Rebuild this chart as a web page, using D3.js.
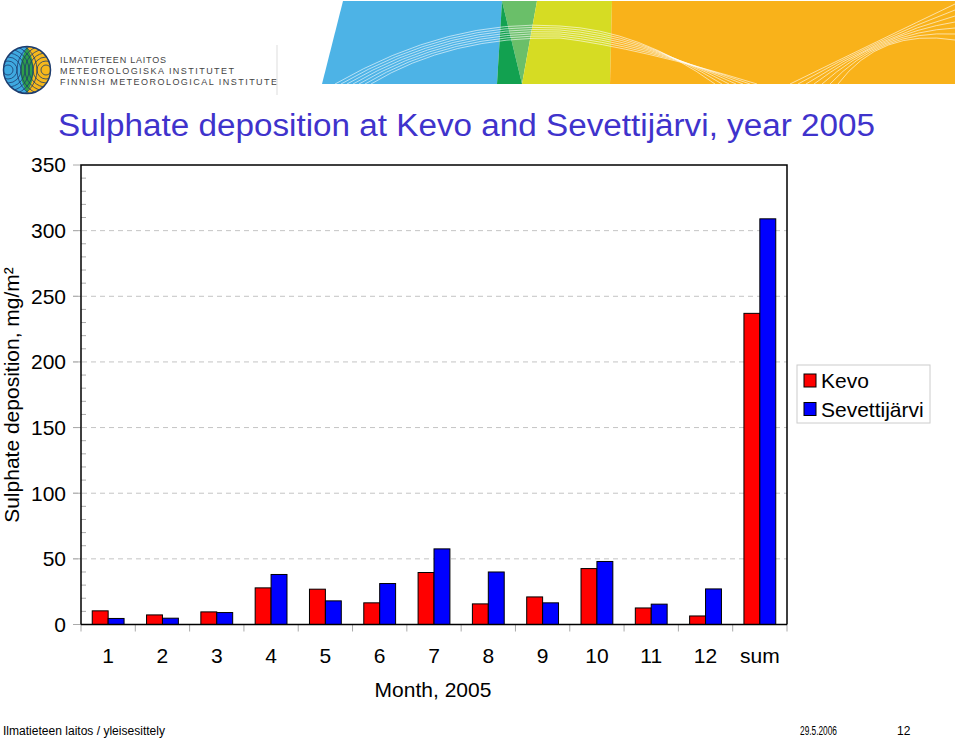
<!DOCTYPE html>
<html><head><meta charset="utf-8">
<script src="https://cdnjs.cloudflare.com/ajax/libs/d3/7.8.5/d3.min.js"></script>
<style>body{margin:0;background:#fff}svg{display:block}</style>
</head><body><svg id="c" width="959" height="738"></svg>
<script>
const categories = ["1","2","3","4","5","6","7","8","9","10","11","12","sum"];
const seriesNames = ["Kevo","Sevettijärvi"];
const kevo = [10.4,7.3,9.6,27.9,26.9,16.5,39.6,15.7,21,42.6,12.6,6.5,237];
const sevettijarvi = [4.6,4.8,9.1,38.1,18,31.2,57.6,40,16.5,48,15.5,27.1,309];
const yTicks = [0,50,100,150,200,250,300,350];
const colors = ["#ff0000","#0000ff"];

const svg = d3.select("#c");
const F = "Liberation Sans, Arial, sans-serif";

// ---- header banner ----
const ban = svg.append("g");
ban.append("polygon").attr("points","343,1 502,1 497,84 322,84").attr("fill","#4db3e6");
ban.append("polygon").attr("points","502,1 537,1 522,84").attr("fill","#6abf69");
ban.append("polygon").attr("points","502,1 522,84 497,84").attr("fill","#12a150");
ban.append("polygon").attr("points","537,1 612,1 610,84 522,84").attr("fill","#d6dc23");
ban.append("polygon").attr("points","612,1 955,1 955,84 610,84").attr("fill","#f9b21a");
const wl = ban.append("g").attr("fill","none").attr("stroke","#fff").attr("stroke-opacity",0.75).attr("stroke-width",0.8);
for (let i=0;i<7;i++){
  wl.append("path").attr("d",`M${335+i*6},84 Q${450},${18+i*3} ${560},${26+i*2} Q${640},${30+i*3} ${715+i*7},84`);
  wl.append("path").attr("d",`M${790+i*8},84 Q${880},${40-i*2} ${955},${4+i*6}`);
}

// ---- logo ----
const lg = svg.append("g");
const defs = svg.append("defs");
defs.append("clipPath").attr("id","lc").append("circle").attr("cx",27).attr("cy",70).attr("r",23.5);
const lgc = lg.append("g").attr("clip-path","url(#lc)");
lgc.append("rect").attr("x",0).attr("y",45).attr("width",27).attr("height",50).attr("fill","#3fa9e0");
lgc.append("rect").attr("x",27).attr("y",45).attr("width",30).attr("height",50).attr("fill","#f6b81c");
lgc.append("path").attr("d","M27,47 Q14,70 27,93 Q40,70 27,47Z").attr("fill","#2e9e4a");
for (let r=5;r<=30;r+=4){
  lgc.append("circle").attr("cx",8).attr("cy",70).attr("r",r).attr("fill","none").attr("stroke","#1d3c6e").attr("stroke-width",0.8);
  lgc.append("circle").attr("cx",46).attr("cy",70).attr("r",r).attr("fill","none").attr("stroke","#1d3c6e").attr("stroke-width",0.8);
}
lg.append("circle").attr("cx",27).attr("cy",70).attr("r",23.5).attr("fill","none").attr("stroke","#1d3c6e").attr("stroke-width",1.5);
const logoLines = ["ILMATIETEEN LAITOS","METEOROLOGISKA INSTITUTET","FINNISH METEOROLOGICAL INSTITUTE"];
const logoLen = [106,174,217];
logoLines.forEach((t,i)=>{
  lg.append("text").attr("x",60).attr("y",62.5+i*11).attr("font-family",F).attr("font-size",9)
    .attr("fill","#444").attr("textLength",logoLen[i]).attr("lengthAdjust","spacing").text(t);
});
lg.append("line").attr("x1",277).attr("x2",277).attr("y1",45).attr("y2",95).attr("stroke","#ddd");

// ---- title ----
svg.append("text").attr("x",58).attr("y",136).attr("font-family",F).attr("font-size",31)
  .attr("fill","#3f33cc").attr("textLength",817).attr("lengthAdjust","spacingAndGlyphs")
  .text("Sulphate deposition at Kevo and Sevettijärvi, year 2005");

// ---- chart ----
const x0 = 81, x1 = 787, yTop = 165, yBot = 624.5;
const x = d3.scaleBand().domain(categories).range([x0,x1]).padding(0);
const bw = x.bandwidth();
const xs = d3.scaleBand().domain(seriesNames).range([bw*0.207, bw*0.793]).padding(0);
const y = d3.scaleLinear().domain([0,350]).range([yBot,yTop]);

// grid
svg.append("g").selectAll("line").data(yTicks.filter(v=>v>0 && v<350)).join("line")
  .attr("x1",x0-8).attr("x2",x1).attr("y1",d=>y(d)).attr("y2",d=>y(d))
  .attr("stroke","#c4c4c4").attr("stroke-dasharray","5,4");
// minor ticks
svg.append("g").selectAll("line").data(d3.range(0,351,10).filter(v=>v%50!==0)).join("line")
  .attr("x1",x0).attr("x2",x0+5).attr("y1",d=>y(d)).attr("y2",d=>y(d)).attr("stroke","#aaa");
// major ticks left
svg.append("g").selectAll("line").data(yTicks).join("line")
  .attr("x1",x0-8).attr("x2",x0).attr("y1",d=>y(d)).attr("y2",d=>y(d)).attr("stroke","#aaa");
// x ticks at band edges
svg.append("g").selectAll("line").data(categories.concat(["_end"])).join("line")
  .attr("x1",(d,i)=>x0+i*bw).attr("x2",(d,i)=>x0+i*bw).attr("y1",yBot).attr("y2",yBot+7).attr("stroke","#aaa");

// bars
const data = categories.map((c,i)=>({c, vals:[kevo[i],sevettijarvi[i]]}));
const grp = svg.append("g").selectAll("g").data(data).join("g").attr("transform",d=>`translate(${x(d.c)},0)`);
grp.selectAll("rect").data(d=>d.vals.map((v,j)=>({v,s:seriesNames[j],j}))).join("rect")
  .attr("x",d=>xs(d.s)).attr("width",xs.bandwidth())
  .attr("y",d=>y(d.v)).attr("height",d=>yBot-y(d.v))
  .attr("fill",d=>colors[d.j]).attr("stroke","#000").attr("stroke-width",1);

// frame
svg.append("path").attr("d",`M${x0},${yBot} V${yTop} H${x1} V${yBot}`).attr("fill","none").attr("stroke","#000").attr("stroke-width",1.5);
svg.append("line").attr("x1",x0).attr("x2",x1).attr("y1",yBot).attr("y2",yBot).attr("stroke","#000").attr("stroke-width",1.5);

// y labels
svg.append("g").selectAll("text").data(yTicks).join("text")
  .attr("x",66).attr("y",d=>y(d)).attr("dy","0.35em").attr("text-anchor","end")
  .attr("font-family",F).attr("font-size",21).attr("fill","#000").text(d=>d);
// x labels
svg.append("g").selectAll("text").data(categories).join("text")
  .attr("x",d=>x(d)+bw/2).attr("y",663).attr("text-anchor","middle")
  .attr("font-family",F).attr("font-size",21).attr("fill","#000").text(d=>d);
svg.append("text").attr("x",433).attr("y",697).attr("text-anchor","middle")
  .attr("font-family",F).attr("font-size",21).text("Month, 2005");
svg.append("text").attr("transform","translate(19,395) rotate(-90)").attr("text-anchor","middle")
  .attr("font-family",F).attr("font-size",21).text("Sulphate deposition, mg/m²");

// legend
const leg = svg.append("g");
leg.append("rect").attr("x",797).attr("y",365).attr("width",133).attr("height",58).attr("fill","#fff").attr("stroke","#ccc");
seriesNames.forEach((s,i)=>{
  leg.append("rect").attr("x",804).attr("y",374+i*28.5).attr("width",12).attr("height",13)
    .attr("fill",colors[i]).attr("stroke","#000");
  leg.append("text").attr("x",821).attr("y",388+i*28.5).attr("font-family",F).attr("font-size",21).text(s);
});

// footer
svg.append("text").attr("x",3).attr("y",735).attr("font-family","Liberation Sans Narrow, "+F).attr("font-size",12)
  .attr("textLength",162).attr("lengthAdjust","spacingAndGlyphs").text("Ilmatieteen laitos / yleisesittely");
svg.append("text").attr("x",800).attr("y",735).attr("font-family","Liberation Sans Narrow, "+F).attr("font-size",12)
  .attr("textLength",37).attr("lengthAdjust","spacingAndGlyphs").text("29.5.2006");
svg.append("text").attr("x",897).attr("y",735).attr("font-family","Liberation Sans Narrow, "+F).attr("font-size",12).text("12");
</script></body></html>
